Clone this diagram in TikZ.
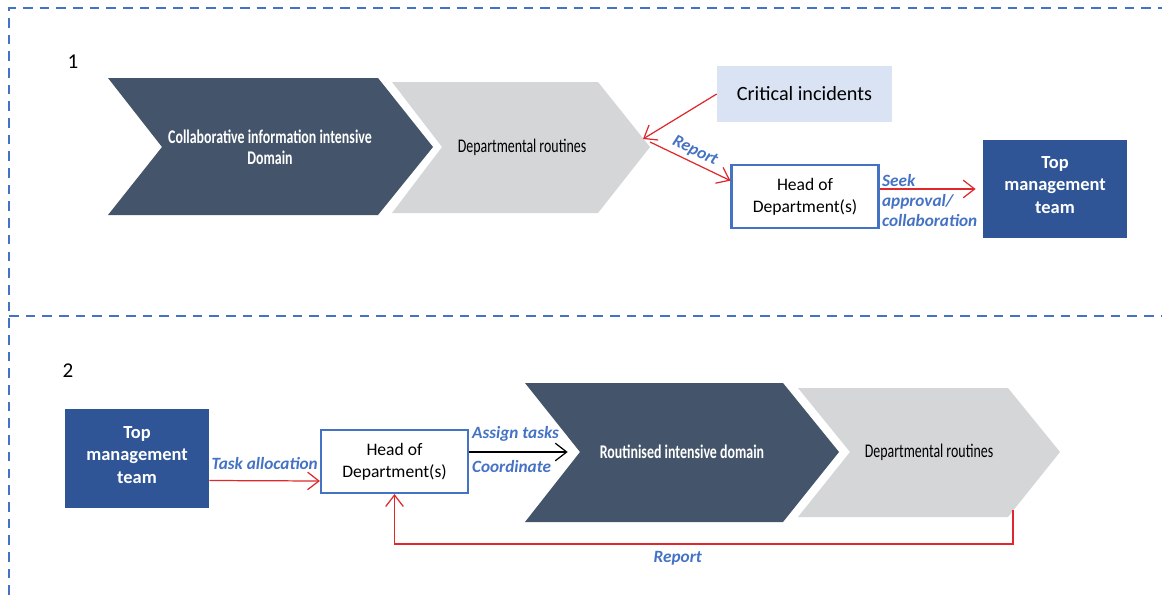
\documentclass[tikz,border=0pt]{standalone}
\usepackage{fontspec}
\setmainfont{Carlito}
\usepackage{xcolor}
\usepackage{tikz}
\usetikzlibrary{arrows.meta, calc}

\definecolor{slate}{HTML}{44546A}
\definecolor{paleGrey}{HTML}{D5D6D8}
\definecolor{navy}{HTML}{2F5597}
\definecolor{midBlue}{HTML}{4472C4}
\definecolor{paleBlue}{HTML}{DAE3F3}
\definecolor{arrRed}{HTML}{E0282C}

\newcommand{\squeezed}[1]{\scalebox{0.72}[1]{#1}}

\begin{document}
\begin{tikzpicture}[x=0.02cm, y=-0.02cm,
  frame/.style={midBlue, line width=1.1pt, dash pattern=on 5.5pt off 4pt},
  redarrow/.style={arrRed, line width=0.7pt, -{Straight Barb[length=6.5pt,width=10pt]}},
  blackarrow/.style={black, line width=0.7pt, -{Straight Barb[length=6.5pt,width=10pt]}},
  hodbox/.style={draw=midBlue, line width=1.2pt, fill=white, minimum width=2.94cm, minimum height=1.26cm, align=center, font=\fontsize{10}{12.5}\selectfont},
  topbox/.style={fill=navy, text=white, minimum width=2.88cm, minimum height=1.97cm, align=center, font=\fontsize{10.5}{12.8}\selectfont\bfseries},
  lbl/.style={text=midBlue, font=\fontsize{9.8}{11.6}\selectfont\bfseries\itshape, inner sep=1pt},
  darktxt/.style={text=white, align=center, font=\fontsize{11}{12}\selectfont\bfseries},
  greytxt/.style={text=black, font=\fontsize{11}{12}\selectfont},
  num/.style={font=\fontsize{12}{13}\selectfont}
]
\useasboundingbox (0,0) rectangle (1162,595);

% panel frame
\draw[frame] (9,595) -- (9,8) -- (1162,8);
\draw[frame] (9,316) -- (1162,316);

% ---- panel 1
\node[num] (n1) at (73,62) {1};

\fill[slate] (108,78) -- (378,78) -- (433,147) -- (378,215) -- (108,215) -- (162,147) -- cycle;
\fill[paleGrey] (392,82) -- (598,82) -- (650,147) -- (598,213) -- (392,213) -- (442,147) -- cycle;
\coordinate (g1tip) at (650,147);

\node[darktxt] (collab) at (270,147) {\squeezed{Collaborative information intensive}\\\squeezed{Domain}};
\node[greytxt] (routines1) at (522,147) {\squeezed{Departmental routines}};

\node[fill=paleBlue, minimum width=3.5cm, minimum height=1.12cm, font=\fontsize{11.5}{13}\selectfont] (crit) at (804.5,94) {Critical incidents};
\node[hodbox] (hod1) at (805,196.5) {Head of\\Department(s)};
\node[topbox] (tmt1) at (1055,189) {};
\node[topbox, fill=none] (tmt1txt) at (1055,185) {Top\\management\\team};

\draw[redarrow] (crit.west) -- ($(g1tip)+(-7,-8)$);
\draw[redarrow] ($(g1tip)+(0,-5)$) -- (hod1.168) node[midway, above=1pt, sloped, lbl] (rep1) {Report};
\draw[redarrow] (hod1.east |- tmt1.west) -- ([xshift=-4pt]tmt1.west);
\node[lbl, align=left, anchor=north west] (seek) at (880,172) {Seek\\approval/\\collaboration};

% ---- panel 2
\node[num] (n2) at (68,371) {2};

\node[topbox] (tmt2) at (137,458.5) {};
\node[topbox, fill=none] (tmt2txt) at (137,455) {Top\\management\\team};
\node[hodbox] (hod2) at (394.5,461.5) {Head of\\Department(s)};

\fill[slate] (525,383) -- (783,383) -- (839,452) -- (783,522) -- (525,522) -- (580,452) -- cycle;
\fill[paleGrey] (798,388) -- (1008,388) -- (1060,452) -- (1008,517) -- (798,517) -- (850,452) -- cycle;
\coordinate (d2notch) at (580,452);
\coordinate (g2rep) at (1013,510);

\node[darktxt] (routinised) at (682,452) {\squeezed{Routinised intensive domain}};
\node[greytxt] (routines2) at (929,452) {\squeezed{Departmental routines}};

\draw[redarrow] ($(tmt2.east)+(0,22)$) -- ($(hod2.west)+(0,19.5)$) node[midway, above=5pt, lbl] (task) {Task allocation};
\draw[blackarrow] (hod2.east |- d2notch) -- ([xshift=-7pt]d2notch);
\node[lbl, anchor=west] (assign) at ($(hod2.east)+(1,-27.5)$) {Assign tasks};
\node[lbl, anchor=west] (coord) at ($(hod2.east)+(1,5.5)$) {Coordinate};

\draw[redarrow] (g2rep) -- (1013,544) -| (hod2.south) node[pos=0.271, below=3pt, lbl] (rep2) {Report};
\end{tikzpicture}
\end{document}
